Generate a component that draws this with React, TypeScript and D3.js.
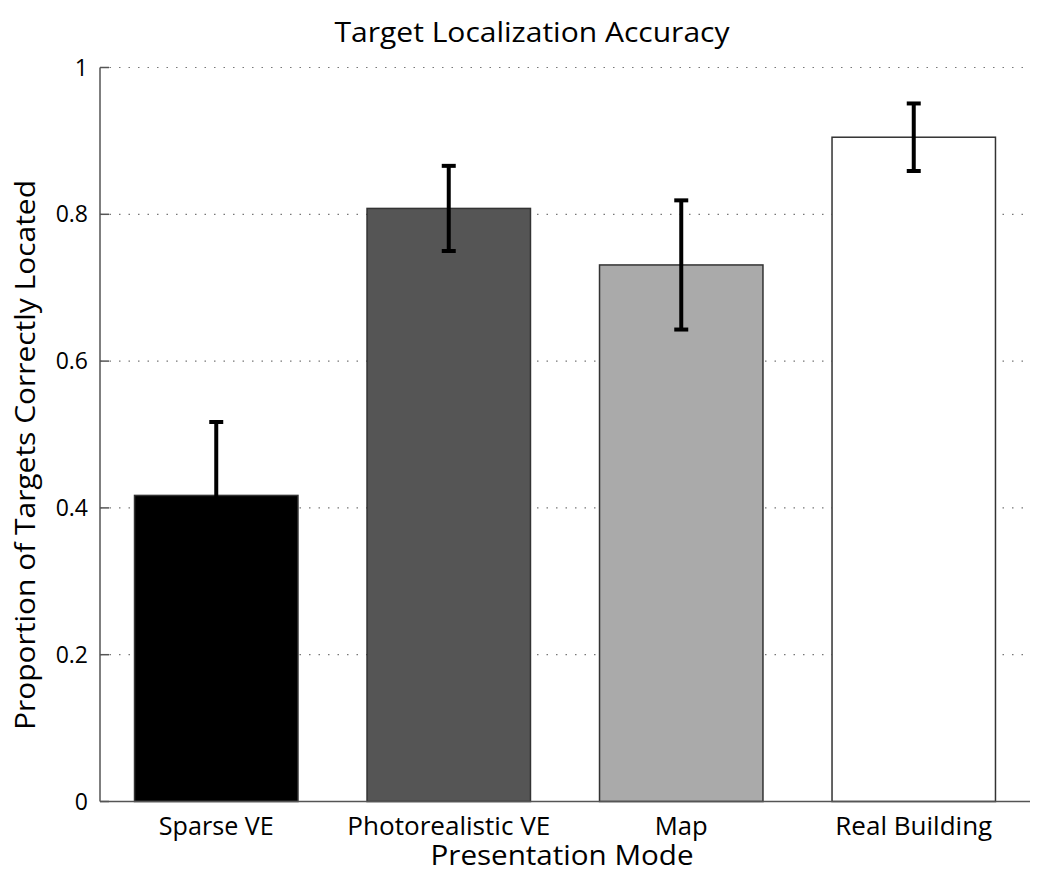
import React from "react";
import * as d3 from "d3";

const categories = ["Sparse VE", "Photorealistic VE", "Map", "Real Building"];
const means = [0.417, 0.808, 0.731, 0.905];
const errors = [0.1, 0.058, 0.088, 0.046];
const barColors = ["#000000", "#555555", "#aaaaaa", "#ffffff"];
const yTicks = [0, 0.2, 0.4, 0.6, 0.8, 1];
const yTickLabels = ["0", "0.2", "0.4", "0.6", "0.8", "1"];
const catLabelWidths = [115, 203, 53, 157];

const W = 1038, H = 882;
const left = 100, right = 1030, top = 67.5, bottom = 801.5;
const font = "'Open Sans', sans-serif";

export default function App() {
  const x = d3.scaleBand<string>().domain(categories).range([left, right]).paddingInner(0).paddingOuter(0);
  const y = d3.scaleLinear().domain([0, 1]).range([bottom, top]);
  const bw = x.bandwidth() * 0.703;
  const capW = 14;
  return (
    <svg width={W} height={H} style={{ position: "absolute", left: 0, top: 0, background: "#fff" }}>
      {yTicks.filter(t => t > 0).map((t, i) => (
        <line key={"g" + i} x1={left} x2={right} y1={y(t)} y2={y(t)} stroke="#777" strokeWidth={1.2} strokeDasharray="1.5 8" />
      ))}
      {categories.map((c, i) => {
        const cx = x(c)! + x.bandwidth() / 2;
        return (
          <g key={c}>
            <rect x={cx - bw / 2} y={y(means[i])} width={bw} height={y(0) - y(means[i])} fill={barColors[i]} stroke="#333" strokeWidth={1.5} />
          </g>
        );
      })}
      {categories.map((c, i) => {
        const cx = x(c)! + x.bandwidth() / 2;
        const hi = y(means[i] + errors[i]);
        const lo = y(means[i] - errors[i]);
        return (
          <g key={"e" + c} stroke="#000" strokeWidth={4}>
            <line x1={cx} x2={cx} y1={hi} y2={lo} />
            <line x1={cx - capW / 2} x2={cx + capW / 2} y1={hi} y2={hi} />
            <line x1={cx - capW / 2} x2={cx + capW / 2} y1={lo} y2={lo} />
          </g>
        );
      })}
      <line x1={left} x2={left} y1={top} y2={bottom} stroke="#555" strokeWidth={1.5} />
      <line x1={left} x2={right} y1={bottom} y2={bottom} stroke="#555" strokeWidth={1.5} />
      {yTicks.map((t, i) => (
        <g key={"t" + i}>
          <line x1={left} x2={left + 9} y1={y(t)} y2={y(t)} stroke="#555" strokeWidth={1.5} />
          <text x={left - 12} y={y(t)} dy="0.35em" textAnchor="end" fontFamily={font} fontSize={23} fill="#000">{yTickLabels[i]}</text>
        </g>
      ))}
      {categories.map((c, i) => (
        <text key={"l" + c} x={x(c)! + x.bandwidth() / 2} y={835} textAnchor="middle" fontFamily={font} fontSize={25.5}
          textLength={catLabelWidths[i]} lengthAdjust="spacingAndGlyphs" fill="#000">{c}</text>
      ))}
      <text x={562} y={865} textAnchor="middle" fontFamily={font} fontSize={28} textLength={263} lengthAdjust="spacingAndGlyphs" fill="#000">Presentation Mode</text>
      <text x={532} y={42} textAnchor="middle" fontFamily={font} fontSize={28} textLength={395} lengthAdjust="spacingAndGlyphs" fill="#000">Target Localization Accuracy</text>
      <text transform={`translate(35,455) rotate(-90)`} textAnchor="middle" fontFamily={font} fontSize={28} textLength={550} lengthAdjust="spacingAndGlyphs" fill="#000">Proportion of Targets Correctly Located</text>
    </svg>
  );
}
